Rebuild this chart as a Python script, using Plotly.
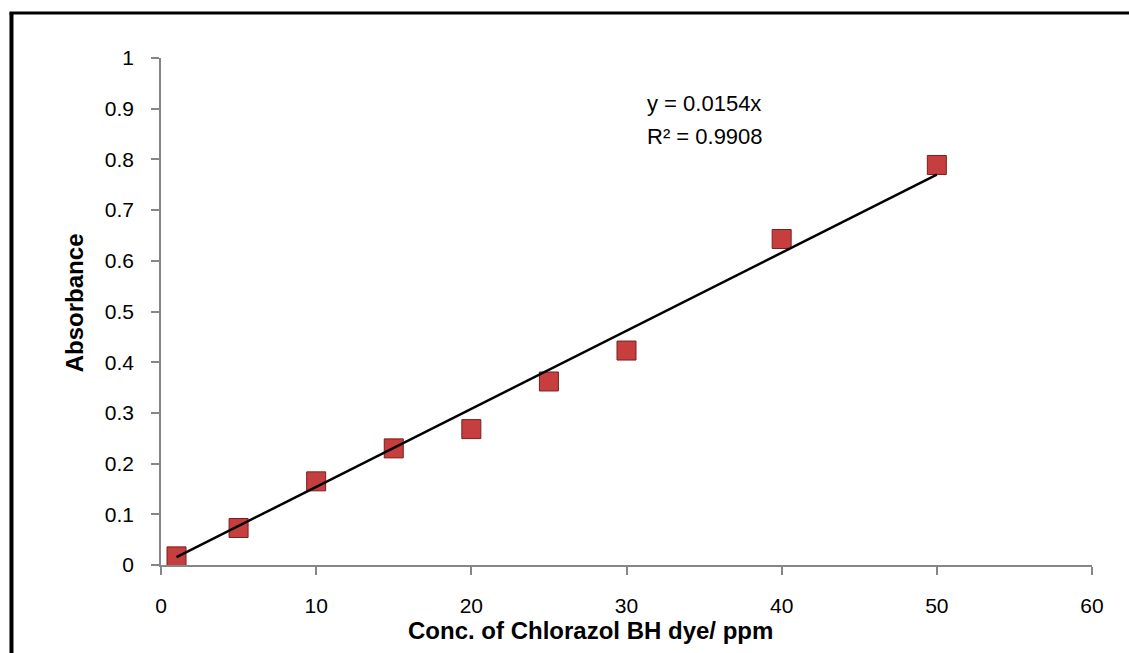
import plotly.graph_objects as go

# Data
conc = [1, 5, 10, 15, 20, 25, 30, 40, 50]
absorbance = [0.017, 0.073, 0.165, 0.230, 0.268, 0.362, 0.423, 0.643, 0.789]
slope = 0.0154
trend_x = [1, 50]
trend_y = [slope * v for v in trend_x]

x_ticks = [0, 10, 20, 30, 40, 50, 60]
y_ticks = [0, 0.1, 0.2, 0.3, 0.4, 0.5, 0.6, 0.7, 0.8, 0.9, 1]
y_tick_text = ["0", "0.1", "0.2", "0.3", "0.4", "0.5", "0.6", "0.7", "0.8", "0.9", "1"]

FONT = "Liberation Sans"

fig = go.Figure()
fig.add_trace(go.Scatter(
    x=conc, y=absorbance, mode="markers",
    marker=dict(symbol="square", size=19, color="#C63F3E",
                line=dict(color="#7A1E1E", width=1)),
    showlegend=False, cliponaxis=False))
fig.add_trace(go.Scatter(
    x=trend_x, y=trend_y, mode="lines",
    line=dict(color="black", width=2.5),
    showlegend=False))

axis_common = dict(showgrid=False, zeroline=False, showline=True,
                   linecolor="#868686", linewidth=1.5,
                   ticks="outside", ticklen=8, tickcolor="#868686", tickwidth=1.5,
                   ticklabelstandoff=13,
                   tickfont=dict(family=FONT, size=21, color="black"))

fig.update_xaxes(range=[0, 60], tickvals=x_ticks, **axis_common)
fig.update_yaxes(range=[0, 1], tickvals=y_ticks, ticktext=y_tick_text, **axis_common)

fig.add_annotation(x=0.4615, xref="paper", y=-0.13, yref="paper",
                   text="<b>Conc. of Chlorazol BH dye/ ppm</b>", showarrow=False,
                   xanchor="center", yanchor="middle",
                   font=dict(family=FONT, size=24, color="black"))
fig.add_annotation(x=-0.092, xref="paper", y=0.517, yref="paper",
                   text="<b>Absorbance</b>", showarrow=False, textangle=-90,
                   xanchor="center", yanchor="middle",
                   font=dict(family=FONT, size=24, color="black"))
fig.add_annotation(x=0.52, xref="paper", y=0.911, yref="paper",
                   text="y = 0.0154x", showarrow=False, align="left",
                   xanchor="left", yanchor="middle",
                   font=dict(family=FONT, size=22, color="black"))
fig.add_annotation(x=0.52, xref="paper", y=0.846, yref="paper",
                   text="R² = 0.9908", showarrow=False, align="left",
                   xanchor="left", yanchor="middle",
                   font=dict(family=FONT, size=22, color="black"))

# Frame lines (left and top), in paper coordinates
fig.add_shape(type="line", xref="paper", yref="paper",
              x0=-0.1606, x1=-0.1606, y0=-0.2, y1=1.0888,
              line=dict(color="black", width=4))
fig.add_shape(type="line", xref="paper", yref="paper",
              x0=-0.1628, x1=1.05, y0=1.0888, y1=1.0888,
              line=dict(color="black", width=3))

fig.update_layout(width=1129, height=653,
                  margin=dict(l=161, r=37, t=58, b=88),
                  plot_bgcolor="white", paper_bgcolor="white")

fig.write_html("out.html")
